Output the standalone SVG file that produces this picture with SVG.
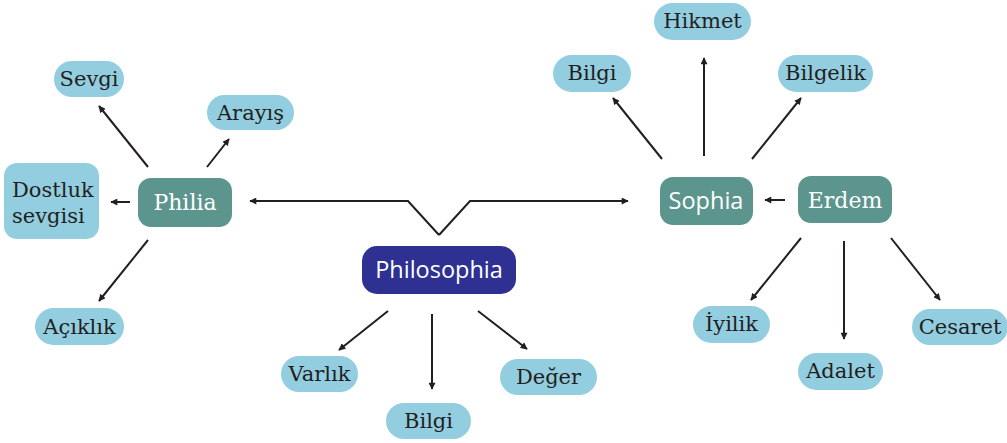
<svg xmlns="http://www.w3.org/2000/svg" width="1007" height="443" viewBox="0 0 1007 443">
<defs>
<style>
.leaf{fill:#92cde0}
.teal{fill:#5c958d}
.navy{fill:#2e3192}
.lt{font-family:"DejaVu Serif","Liberation Serif",serif;font-size:21px;fill:#231f20;text-anchor:middle}
.ws{font-family:"DejaVu Serif","Liberation Serif",serif;font-size:22px;fill:#ffffff;text-anchor:middle}
.wsans{font-family:"Open Sans","Noto Sans",sans-serif;font-size:23.5px;fill:#ffffff;text-anchor:middle}
.c{fill:none;stroke:#231f20;stroke-width:2;marker-end:url(#ah)}
</style>
<marker id="ah" viewBox="0 0 10 10" refX="9" refY="5" markerWidth="9" markerHeight="7" markerUnits="userSpaceOnUse" orient="auto">
<path d="M0,0 L10,5 L0,10 z" fill="#231f20"/>
</marker>
</defs>
<rect width="1007" height="443" fill="#ffffff"/>
<g id="connectors">
<path class="c" d="M439,235 L408,201 L250,201"/>
<path class="c" d="M439,235 L470,201 L628,201"/>
<path class="c" d="M148,167 L99,106"/>
<path class="c" d="M207,167 L229,139"/>
<path class="c" d="M130,202 L111,202"/>
<path class="c" d="M148,240 L99,301"/>
<path class="c" d="M388,311 L339,350"/>
<path class="c" d="M432,314 L432,389"/>
<path class="c" d="M478,311 L527,349"/>
<path class="c" d="M662,159 L613,98"/>
<path class="c" d="M704,156 L704,58"/>
<path class="c" d="M752,159 L801,98"/>
<path class="c" d="M785,200 L765,200"/>
<path class="c" d="M801,238 L751,300"/>
<path class="c" d="M844,241 L844,339"/>
<path class="c" d="M891,238 L940,300"/>
</g>
<g id="philosophia"><rect class="navy" x="362" y="246" width="154" height="48" rx="15"/><text class="wsans" x="439" y="278">Philosophia</text></g>
<g id="philia"><rect class="teal" x="138" y="178" width="94" height="49" rx="13"/><text class="ws" x="185" y="210">Philia</text></g>
<g id="sophia"><rect class="teal" x="660" y="177" width="93" height="48" rx="13"/><text class="wsans" x="706" y="209">Sophia</text></g>
<g id="erdem"><rect class="teal" x="798" y="176" width="94" height="47" rx="13"/><text class="ws" x="845" y="208">Erdem</text></g>
<g id="sevgi"><rect class="leaf" x="54" y="61" width="70" height="36" rx="18"/><text class="lt" x="89" y="86">Sevgi</text></g>
<g id="arayis"><rect class="leaf" x="207" y="95" width="87" height="35" rx="17.5"/><text class="lt" x="250.5" y="120">Arayış</text></g>
<g id="dostluk"><rect class="leaf" x="4" y="163" width="95" height="76" rx="13"/><text class="lt" x="12" y="197" style="text-anchor:start">Dostluk</text><text class="lt" x="12" y="223" style="text-anchor:start">sevgisi</text></g>
<g id="aciklik"><rect class="leaf" x="35" y="308" width="89" height="37" rx="18.5"/><text class="lt" x="79.5" y="334">Açıklık</text></g>
<g id="varlik"><rect class="leaf" x="281" y="356" width="77" height="36" rx="18"/><text class="lt" x="319.5" y="381">Varlık</text></g>
<g id="bilgi1"><rect class="leaf" x="386" y="403" width="85" height="36" rx="18"/><text class="lt" x="428.5" y="428">Bilgi</text></g>
<g id="deger"><rect class="leaf" x="500" y="359" width="97" height="36" rx="18"/><text class="lt" x="548.5" y="384">Değer</text></g>
<g id="hikmet"><rect class="leaf" x="654" y="3" width="97" height="37" rx="18.5"/><text class="lt" x="702.5" y="28">Hikmet</text></g>
<g id="bilgi2"><rect class="leaf" x="553" y="55" width="78" height="37" rx="18.5"/><text class="lt" x="592" y="80">Bilgi</text></g>
<g id="bilgelik"><rect class="leaf" x="778" y="55" width="95" height="37" rx="18.5"/><text class="lt" x="825.5" y="80">Bilgelik</text></g>
<g id="iyilik"><rect class="leaf" x="693" y="306" width="77" height="37" rx="18.5"/><text class="lt" x="731.5" y="331">İyilik</text></g>
<g id="adalet"><rect class="leaf" x="798" y="353" width="85" height="37" rx="18.5"/><text class="lt" x="840.5" y="378">Adalet</text></g>
<g id="cesaret"><rect class="leaf" x="912" y="309" width="96" height="36" rx="18"/><text class="lt" x="960" y="334">Cesaret</text></g>
</svg>
